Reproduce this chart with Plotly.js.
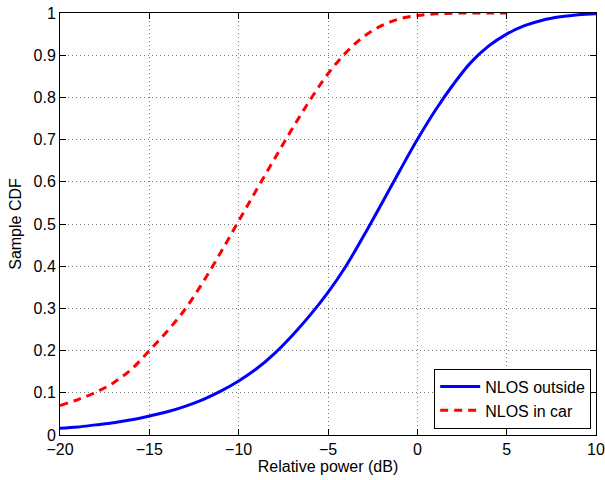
<!DOCTYPE html>
<html>
<head>
<meta charset="utf-8">
<script src="https://cdn.plot.ly/plotly-3.0.1.min.js"></script>
<style>html,body{margin:0;padding:0;background:#fff}#chart{width:605px;height:480px}</style>
</head>
<body>
<div id="chart"></div>
<script>
// Relative power (dB)
const powerOutside = [-20,-19,-18,-17,-16,-15,-14,-13,-12,-11,-10,-9,-8,-7,-6,-5,-4,-3,-2,-1,0,1,2,3,4,5,6,7,8,9,10];
const cdfOutside = [0.016,0.019,0.024,0.029,0.036,0.045,0.055,0.068,0.084,0.104,0.128,0.157,0.193,0.236,0.284,0.338,0.40,0.472,0.548,0.625,0.70,0.769,0.83,0.883,0.922,0.95,0.97,0.983,0.991,0.996,0.998];
const powerCar = [-20,-19,-18,-17,-16,-15,-14,-13,-12,-11,-10,-9,-8,-7,-6,-5,-4,-3,-2,-1,0,1,2,3,4,5];
const cdfCar = [0.07,0.084,0.101,0.124,0.156,0.20,0.246,0.298,0.362,0.433,0.507,0.581,0.654,0.726,0.794,0.856,0.906,0.944,0.97,0.986,0.994,0.998,0.9995,1.0,1.0,1.0];
const seriesNames = ["NLOS outside", "NLOS in car"];
const xTicks = [-20,-15,-10,-5,0,5,10];
const yTicks = [0,0.1,0.2,0.3,0.4,0.5,0.6,0.7,0.8,0.9,1];

const fam = "Liberation Sans, Arial, Helvetica, sans-serif";
const font = {family: fam, size: 16, color: "#000"};

const traces = [
  {x: powerOutside, y: cdfOutside, name: seriesNames[0], mode: "lines", line: {color: "#0000ff", width: 3, shape: "spline", smoothing: 1}},
  {x: powerCar, y: cdfCar, name: seriesNames[1], mode: "lines", line: {color: "#ff0000", width: 3, dash: "8px,6px", shape: "spline", smoothing: 1}}
];

const axisCommon = {
  showline: true, linecolor: "#000", linewidth: 1, mirror: "allticks",
  ticks: "inside", ticklen: 6, tickcolor: "#000",
  showgrid: true, gridcolor: "#777", griddash: "1px,3px", gridwidth: 1,
  zeroline: false, tickfont: font
};

const layout = {
  width: 605, height: 480,
  margin: {l: 60, r: 9, t: 13, b: 45},
  paper_bgcolor: "#fff", plot_bgcolor: "#fff",
  font: font,
  showlegend: true,
  legend: {x: 0.991, y: 0.015, xanchor: "right", yanchor: "bottom", bordercolor: "#000", borderwidth: 1, bgcolor: "#fff", font: {family: fam, size: 16, color: "#000"}, tracegroupgap: 0, itemwidth: 40},
  xaxis: Object.assign({}, axisCommon, {range: [-20, 10], tickvals: xTicks, title: {text: "Relative power (dB)", font: font, standoff: 2}}),
  yaxis: Object.assign({}, axisCommon, {range: [0, 1], tickvals: yTicks, ticktext: yTicks.map(String), title: {text: "Sample CDF", font: font, standoff: 7}})
};

Plotly.newPlot("chart", traces, layout, {displayModeBar: false, staticPlot: true});
</script>
</body>
</html>
